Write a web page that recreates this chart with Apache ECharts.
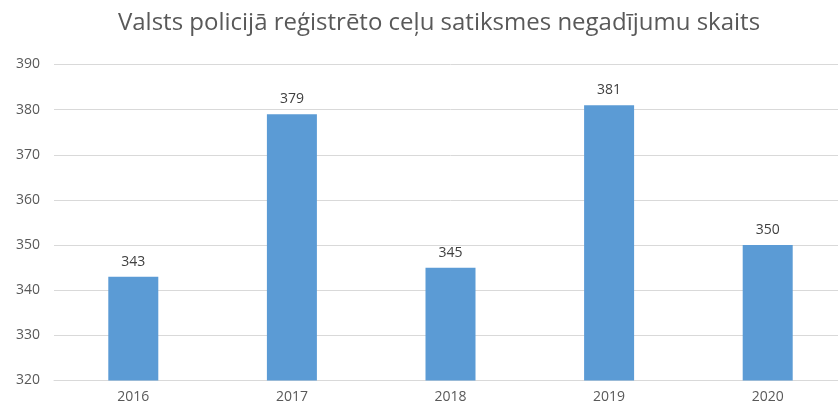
<!DOCTYPE html>
<html>
<head>
<meta charset="utf-8">
<script src="https://cdn.jsdelivr.net/npm/echarts@6/dist/echarts.min.js"></script>
<style>
  html, body { margin: 0; padding: 0; background: #fff; overflow: hidden; }
  #chart { width: 847px; height: 412px; }
</style>
</head>
<body>
<div id="chart"></div>
<script>
const years = ['2016', '2017', '2018', '2019', '2020']
const accidents = [343, 379, 345, 381, 350]

const chart = echarts.init(document.getElementById('chart'))
const option = {
  animation: false,
  textStyle: { fontFamily: 'Open Sans' },
  title: {
    text: 'Valsts policijā reģistrēto ceļu satiksmes negadījumu skaits',
    left: 434,
    top: 6,
    textAlign: 'center',
    textStyle: { color: '#595959', fontSize: 24, fontWeight: 'normal', fontFamily: 'Open Sans' }
  },
  grid: { left: 54, right: 0, top: 64.5, bottom: 31.5, containLabel: false },
  xAxis: {
    type: 'category',
    data: years,
    axisLine: { show: true, lineStyle: { color: '#d9d9d9' } },
    axisTick: { show: false },
    axisLabel: { color: '#595959', fontSize: 14, margin: 10 }
  },
  yAxis: {
    type: 'value',
    min: 320,
    max: 390,
    interval: 10,
    axisLine: { show: false },
    axisTick: { show: false },
    axisLabel: { color: '#595959', fontSize: 14, margin: 14 },
    splitLine: { lineStyle: { color: '#d9d9d9', width: 1 } }
  },
  series: [{
    type: 'bar',
    data: accidents,
    barWidth: 50,
    itemStyle: { color: '#5b9bd5' },
    label: { show: true, position: 'top', color: '#404040', fontSize: 14, distance: 8 }
  }]
}
chart.setOption(option)
</script>
</body>
</html>
